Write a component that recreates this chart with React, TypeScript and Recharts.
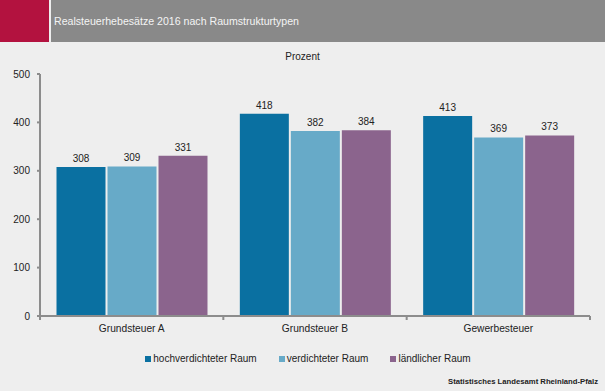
import { BarChart, Bar, XAxis, YAxis, Legend, LabelList } from "recharts";

const categories = ["Grundsteuer A", "Grundsteuer B", "Gewerbesteuer"];
const hochverdichtet = [308, 418, 413];
const verdichtet = [309, 382, 369];
const laendlich = [331, 384, 373];
const yTicks = [0, 100, 200, 300, 400, 500];

const seriesNames = ["hochverdichteter Raum", "verdichteter Raum", "ländlicher Raum"];
const colors = ["#0a70a1", "#67aac8", "#8b648d"];

const data = categories.map((name, i) => ({
  name,
  a: hochverdichtet[i],
  b: verdichtet[i],
  c: laendlich[i],
}));

const font = "'Liberation Sans', Arial, sans-serif";
const axisColor = "#8c8c8c";

// x tick: label at band centre, tick marks at band boundaries
function CategoryTick(props: any) {
  const { x, y, payload, index, width, visibleTicksCount } = props;
  const band = width / (visibleTicksCount || 3);
  const half = band / 2;
  const axisY = y - 9;
  return (
    <g>
      {index === 0 && (
        <line x1={x - half} x2={x - half} y1={axisY} y2={axisY + 4} stroke={axisColor} strokeWidth={2} />
      )}
      <line x1={x + half} x2={x + half} y1={axisY} y2={axisY + 4} stroke={axisColor} strokeWidth={2} />
      <text x={x} y={y} dy="0.71em" textAnchor="middle" fontSize={10.2} fill="#222" fontFamily={font}>
        {payload.value}
      </text>
    </g>
  );
}

function LegendContent() {
  return (
    <div style={{ display: "flex", justifyContent: "center", gap: 22, paddingLeft: 11 }}>
      {seriesNames.map((n, i) => (
        <div key={n} style={{ display: "flex", alignItems: "center" }}>
          <span style={{ width: 6, height: 6, background: colors[i], marginRight: 2, display: "inline-block" }} />
          <span style={{ fontSize: 10, color: "#222" }}>{n}</span>
        </div>
      ))}
    </div>
  );
}

export default function App() {
  return (
    <div
      style={{
        position: "absolute",
        left: 0,
        top: 0,
        width: 605,
        height: 391,
        background: "#eeeeee",
        fontFamily: font,
        overflow: "hidden",
      }}
    >
      <div style={{ position: "absolute", left: 0, top: 0, width: 49, height: 42, background: "#b3123f" }} />
      <div
        style={{
          position: "absolute",
          left: 51,
          top: 0,
          width: 554,
          height: 42,
          background: "#898989",
          color: "#f4f4f4",
          fontSize: 10.6,
          lineHeight: "42px",
          paddingLeft: 3,
          boxSizing: "border-box",
        }}
      >
        Realsteuerhebesätze 2016 nach Raumstrukturtypen
      </div>
      <div
        style={{
          position: "absolute",
          left: 0,
          width: 605,
          top: 51,
          textAlign: "center",
          fontSize: 10,
          color: "#222",
        }}
      >
        Prozent
      </div>
      <BarChart
        width={605}
        height={391}
        data={data}
        margin={{ top: 74, right: 15, bottom: 45, left: 0 }}
        barCategoryGap="9%"
        barGap={2}
        style={{ position: "absolute", left: 0, top: 0 }}
      >
        <XAxis
          dataKey="name"
          height={30}
          tickLine={false}
          tickSize={4}
          tickMargin={5}
          axisLine={{ stroke: axisColor, strokeWidth: 2 }}
          tick={<CategoryTick />}
        />
        <YAxis
          width={40}
          domain={[0, 500]}
          ticks={yTicks}
          tickSize={3}
          tickMargin={7}
          axisLine={{ stroke: axisColor, strokeWidth: 2 }}
          tickLine={{ stroke: axisColor, strokeWidth: 2 }}
          tick={{ fontSize: 10, fill: "#222", fontFamily: font }}
        />
        <Legend
          verticalAlign="middle"
          align="center"
          layout="horizontal"
          wrapperStyle={{ top: 353, left: 0, width: 605, fontFamily: font }}
          content={<LegendContent />}
        />
        <Bar dataKey="a" name={seriesNames[0]} fill={colors[0]} isAnimationActive={false}>
          <LabelList dataKey="a" position="top" offset={5} fontSize={10} fill="#222" fontFamily={font} />
        </Bar>
        <Bar dataKey="b" name={seriesNames[1]} fill={colors[1]} isAnimationActive={false}>
          <LabelList dataKey="b" position="top" offset={5} fontSize={10} fill="#222" fontFamily={font} />
        </Bar>
        <Bar dataKey="c" name={seriesNames[2]} fill={colors[2]} isAnimationActive={false}>
          <LabelList dataKey="c" position="top" offset={5} fontSize={10} fill="#222" fontFamily={font} />
        </Bar>
      </BarChart>
      <div
        style={{
          position: "absolute",
          right: 7,
          top: 377,
          fontSize: 7.7,
          fontWeight: "bold",
          color: "#222",
        }}
      >
        Statistisches Landesamt Rheinland-Pfalz
      </div>
    </div>
  );
}
